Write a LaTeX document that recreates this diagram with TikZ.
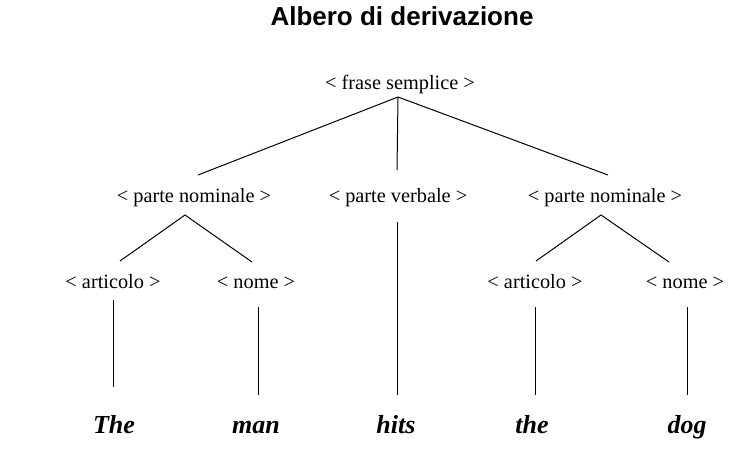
\documentclass[tikz,border=0pt]{standalone}
\usepackage{fontspec}
\setmainfont{Liberation Serif}
\newfontfamily\titlefont{Liberation Sans}
\usetikzlibrary{calc}
\tikzset{
  lbl/.style={inner sep=0pt, anchor=base, font=\fontsize{20.3}{22}\selectfont},
  word/.style={inner sep=0pt, anchor=base, font=\fontsize{26}{28}\selectfont\bfseries\itshape},
  ttl/.style={inner sep=0pt, anchor=base, font=\titlefont\fontsize{26}{28}\selectfont\bfseries},
  edge/.style={draw=black, line width=1pt}
}
\begin{document}
\begin{tikzpicture}[x=1pt,y=-1pt]
\useasboundingbox[fill=white] (0,0) rectangle (750,456);
\node[ttl] (title) at (402,25) {Albero di derivazione};
\node[lbl] (fs) at (400,89) {< frase semplice >};
\node[lbl] (pn1) at (194,202) {< parte nominale >};
\node[lbl] (pv) at (398,202) {< parte verbale >};
\node[lbl] (pn2) at (605,202) {< parte nominale >};
\node[lbl] (a1) at (113,288) {< articolo >};
\node[lbl] (n1) at (256,288) {< nome >};
\node[lbl] (a2) at (535,288) {< articolo >};
\node[lbl] (n2) at (685,288) {< nome >};
\node[word] (w1) at (114,433) {The};
\node[word] (w2) at (256,433) {man};
\node[word] (w3) at (396,433) {hits};
\node[word] (w4) at (532,433) {the};
\node[word] (w5) at (687,433) {dog};
% level 1
\draw[edge] ($(fs.base)+(-2,8)$) -- ($(pn1.base)+(4,-27)$);
\draw[edge] ($(fs.base)+(-2,8)$) -- ($(pv.base)+(-1,-32)$);
\draw[edge] ($(fs.base)+(-2,8)$) -- ($(pn2.base)+(3,-27)$);
% level 2
\draw[edge] ($(pn1.base)+(-9,13)$) -- ($(a1.base)+(7,-27)$);
\draw[edge] ($(pn1.base)+(-9,13)$) -- ($(n1.base)+(-4,-26)$);
\draw[edge] ($(pn2.base)+(-4,13)$) -- ($(a2.base)+(1,-27)$);
\draw[edge] ($(pn2.base)+(-4,13)$) -- ($(n2.base)+(-16,-26)$);
\draw[edge] ($(pv.base)+(-1,20)$) -- ($(w3.base)+(1,-38)$);
% level 3
\draw[edge] ($(a1.base)+(0,12)$) -- ($(w1.base)+(-1,-46)$);
\draw[edge] ($(n1.base)+(2,19)$) -- ($(w2.base)+(2,-38)$);
\draw[edge] ($(a2.base)+(0,19)$) -- ($(w4.base)+(3,-38)$);
\draw[edge] ($(n2.base)+(2,19)$) -- ($(w5.base)+(0,-38)$);
\end{tikzpicture}
\end{document}
